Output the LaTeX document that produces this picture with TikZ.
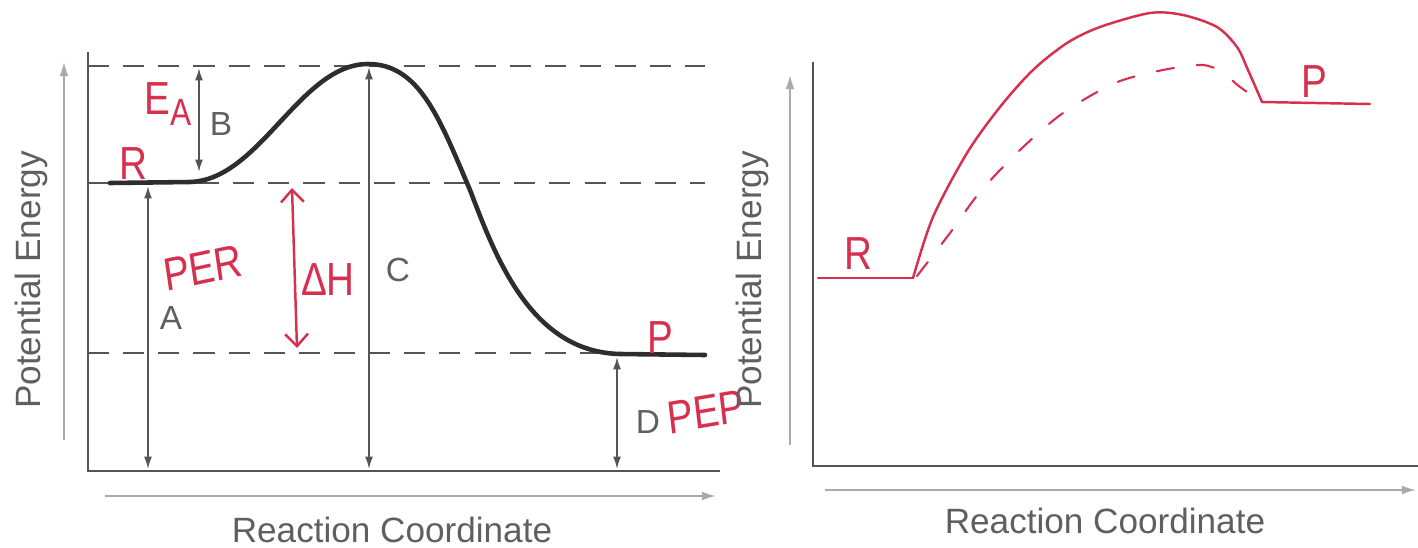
\documentclass[tikz,border=0pt]{standalone}
\usepackage{fontspec}
\setmainfont{Liberation Sans}
\usetikzlibrary{arrows.meta}
\definecolor{hand}{RGB}{214,48,78}
\definecolor{axisc}{RGB}{85,85,85}
\definecolor{lightax}{RGB}{170,170,170}
\definecolor{curvec}{RGB}{45,45,45}
\definecolor{txtc}{RGB}{95,95,95}
\tikzset{
 frame/.style={draw=axisc, line width=1.3pt},
 guide/.style={draw=axisc, line width=0.9pt, dash pattern=on 12pt off 8pt},
 dimarrow/.style={draw=axisc, line width=1pt, {Latex[length=7pt,width=4.5pt]}-{Latex[length=7pt,width=4.5pt]}},
 axisarrow/.style={draw=lightax, line width=0.8pt, -{Latex[length=8pt,width=5pt]}},
 energy/.style={draw=curvec, line width=2.6pt, line cap=round},
 handline/.style={draw=hand, line width=1.4pt, line cap=round, line join=round},
 letter/.style={text=txtc, font=\fontsize{19}{22}\selectfont, inner sep=0},
 axlabel/.style={text=txtc, font=\fontsize{20}{24}\selectfont, inner sep=0},
 handtext/.style={text=hand, font=\fontsize{22}{26}\selectfont, inner sep=0, yscale=1.2},
}
\begin{document}
\begin{tikzpicture}[x=0.02cm, y=-0.02cm]
\useasboundingbox (0,0) rectangle (1418,548);
% ---------- left chart ----------
\draw[axisarrow] (64,440) -- (64,62);
\draw[axisarrow] (105,496) -- (716,496);
\draw[frame] (88,52) -- (88,471) -- (720,471);
\draw[guide] (88,66) -- (705,66);
\draw[guide] (198,183) -- (705,183);
\draw[guide] (88,353) -- (600,353);
\draw[axisc, line width=1pt] (88,183) -- (110,183);
\draw[energy] (110,183) -- (190,182) .. controls (260,180) and (300,64) .. (368,64)
  .. controls (420,64) and (440,120) .. (470,190)
  .. controls (495,255) and (530,352) .. (620,354) -- (705,355);
\coordinate (Btop) at (199,68); \coordinate (Bbot) at (199,172);
\coordinate (Atop) at (148,186); \coordinate (Abot) at (148,469);
\coordinate (Ctop) at (369,67); \coordinate (Cbot) at (369,469);
\coordinate (Dtop) at (617,357); \coordinate (Dbot) at (617,469);
\draw[dimarrow] (Btop) -- (Bbot);
\draw[dimarrow] (Atop) -- (Abot);
\draw[dimarrow] (Ctop) -- (Cbot);
\draw[dimarrow] (Dtop) -- (Dbot);
\node[letter] (lB) at (221,124) {B};
\node[letter] (lA) at (171,318) {A};
\node[letter] (lC) at (398,270) {C};
\node[letter] (lD) at (648,422) {D};
\coordinate (Htop) at (292,188); \coordinate (Hbot) at (297,348);
\draw[handline, {Straight Barb[length=7pt,width=13pt]}-{Straight Barb[length=7pt,width=13pt]}] (Htop) -- (Hbot);
\node[handtext] (dH) at (328,280) {ΔH};
\node[handtext, rotate=10] (per) at (203,268) {PER};
\node[handtext] (ea) at (168,104) {E\raisebox{-0.45ex}{\fontsize{18}{20}\selectfont A}};
\node[handtext] (r1) at (133,164) {R};
\node[handtext] (p1) at (660,338) {P};
\node[handtext, rotate=8] (pep) at (706,412) {PEP};
\node[axlabel, rotate=90] (ylab1) at (31,280) {Potential Energy};
\node[axlabel] (xlab1) at (392,530) {Reaction Coordinate};
% ---------- right chart ----------
\draw[axisarrow] (790,445) -- (790,75);
\draw[axisarrow] (825,490) -- (1416,490);
\draw[frame] (813,62) -- (813,466) -- (1418,466);
\coordinate (Rend) at (913,278);
\coordinate (Pstart) at (1262,102);
\draw[handline] (818,278) -- (Rend);
\draw[handline] plot[smooth] coordinates {(913,278) (933,217) (967,153) (1000,107) (1033,70) (1067,43) (1100,27) (1150,13) (1183,15) (1217,27) (1237,47) (1248,70) (1262,102)};
\draw[handline, line width=1.2pt, dash pattern=on 10pt off 13pt] plot[smooth] coordinates {(917,276) (950,233) (980,192) (1020,150) (1063,113) (1115,83) (1163,70) (1202,65) (1222,72) (1240,87) (1262,102)};
\draw[handline] (Pstart) -- (1370,104);
\node[handtext] (r2) at (858,254) {R};
\node[handtext] (p2) at (1314,82) {P};
\node[axlabel, rotate=90] (ylab2) at (752,280) {Potential Energy};
\node[axlabel] (xlab2) at (1105,521) {Reaction Coordinate};
\end{tikzpicture}
\end{document}
